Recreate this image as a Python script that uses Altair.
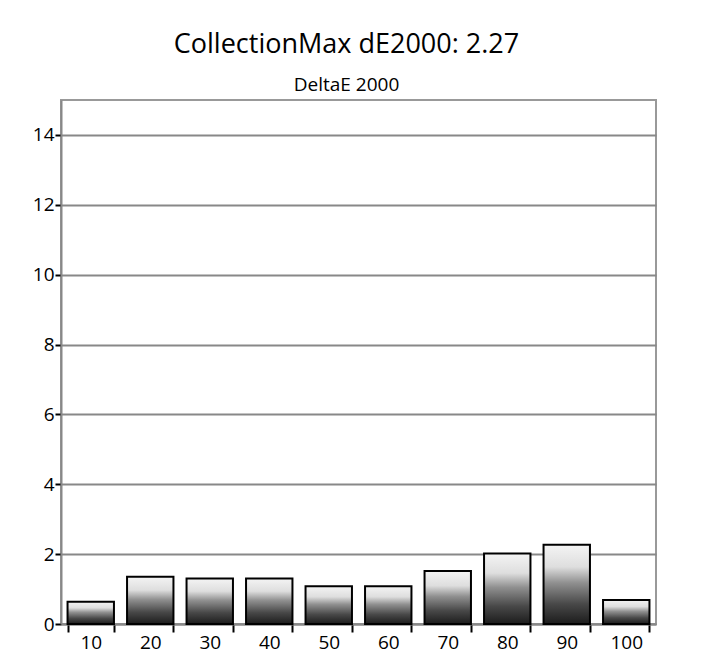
import altair as alt
import pandas as pd

categories = ["10", "20", "30", "40", "50", "60", "70", "80", "90", "100"]
values = [0.64, 1.35, 1.30, 1.30, 1.08, 1.08, 1.52, 2.02, 2.27, 0.69]
y_ticks = [0, 2, 4, 6, 8, 10, 12, 14]

df = pd.DataFrame({"cat": categories, "val": values})

grad = alt.Gradient(
    gradient="linear", x1=0, y1=0, x2=0, y2=1,
    stops=[
        alt.GradientStop(color="#f4f4f4", offset=0),
        alt.GradientStop(color="#dedede", offset=0.28),
        alt.GradientStop(color="#909090", offset=0.48),
        alt.GradientStop(color="#484848", offset=0.75),
        alt.GradientStop(color="#1c1c1c", offset=1),
    ],
)

font = "Open Sans"

chart = alt.Chart(df).mark_bar(
    color=grad, stroke="black", strokeWidth=2
).encode(
    x=alt.X("cat:N", sort=categories,
            scale=alt.Scale(paddingInner=0.22, paddingOuter=0.11),
            axis=alt.Axis(title=None, labelAngle=0, tickBand="extent",
                          tickColor="black", tickWidth=2, tickSize=8,
                          domainColor="#888888", domainWidth=2,
                          labelFont=font, labelFontSize=19, labelColor="black",
                          labelPadding=1)),
    y=alt.Y("val:Q", scale=alt.Scale(domain=[0, 15], nice=False),
            axis=alt.Axis(title=None, values=y_ticks,
                          tickColor="black", tickWidth=2, tickSize=6,
                          domainColor="#888888", domainWidth=2,
                          gridColor="#888888", gridWidth=2, gridOpacity=1,
                          labelFont=font, labelFontSize=19, labelColor="black",
                          labelPadding=1)),
).properties(
    width=595, height=524,
    title=alt.TitleParams(
        text="CollectionMax dE2000: 2.27",
        subtitle="DeltaE 2000",
        font=font, fontSize=27, fontWeight="normal", color="black",
        subtitleFont=font, subtitleFontSize=19, subtitleColor="black",
        subtitlePadding=17, offset=4, anchor="middle", dx=-12,
    ),
    padding={"left": 24, "top": 23, "right": 10, "bottom": 10},
).configure_view(
    stroke="#999999", strokeWidth=2
)

chart.save("out.html", embed_options={"renderer": "svg", "actions": False})
